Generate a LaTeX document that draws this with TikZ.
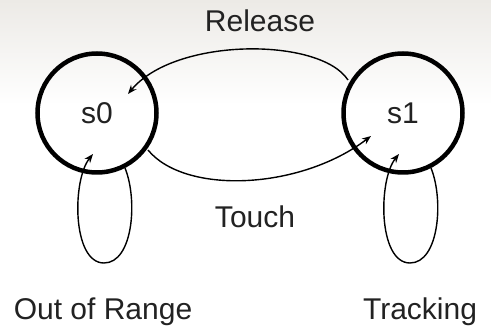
\documentclass[tikz,border=0pt]{standalone}
\usepackage{fontspec}
\setmainfont{Liberation Sans}
\usetikzlibrary{arrows.meta}
\definecolor{bgtop}{HTML}{ECEAE6}
\definecolor{txt}{HTML}{222222}
\tikzset{
  state/.style={circle, draw=black, line width=4.5pt, minimum size=119pt, inner sep=0pt, font=\fontsize{30}{36}\selectfont, text=txt},
  edge/.style={draw=black, line width=1.4pt, -{Stealth[length=9pt,width=7pt]}},
  lbl/.style={font=\fontsize{30}{36}\selectfont, text=txt, anchor=base, inner sep=0pt}
}
\begin{document}
\begin{tikzpicture}[x=1pt,y=-1pt]
\useasboundingbox (0,0) rectangle (491,326);
\fill[white] (0,0) rectangle (491,326);
\shade[top color=bgtop, bottom color=white] (0,0) rectangle (491,105);
% edges
\coordinate (r0) at (348,80);
\coordinate (r1) at (128,94);
\coordinate (t0) at (148,150);
\coordinate (t1) at (371,136);
\draw[edge] (r0) .. controls (320,37) and (175,37) .. (r1);
\draw[edge] (t0) .. controls (185,195) and (300,190) .. (t1);
\coordinate (la) at (125,168);
\coordinate (lb) at (93,154);
\coordinate (ma) at (431,168);
\coordinate (mb) at (399,154);
\draw[edge] (la) .. controls (138,200) and (133,263) .. (104,263) .. controls (72,263) and (72,180) .. (lb);
\draw[edge] (ma) .. controls (444,200) and (439,263) .. (410,263) .. controls (378,263) and (378,180) .. (mb);
% states
\node[state] (s0) at (97,113) {s0};
\node[state] (s1) at (403,113) {s1};
% labels
\node[lbl] (release) at (260,32) {Release};
\node[lbl] (touch) at (255,228) {Touch};
\node[lbl] (oor) at (103,320) {Out of Range};
\node[lbl] (track) at (420,320) {Tracking};
\end{tikzpicture}
\end{document}
